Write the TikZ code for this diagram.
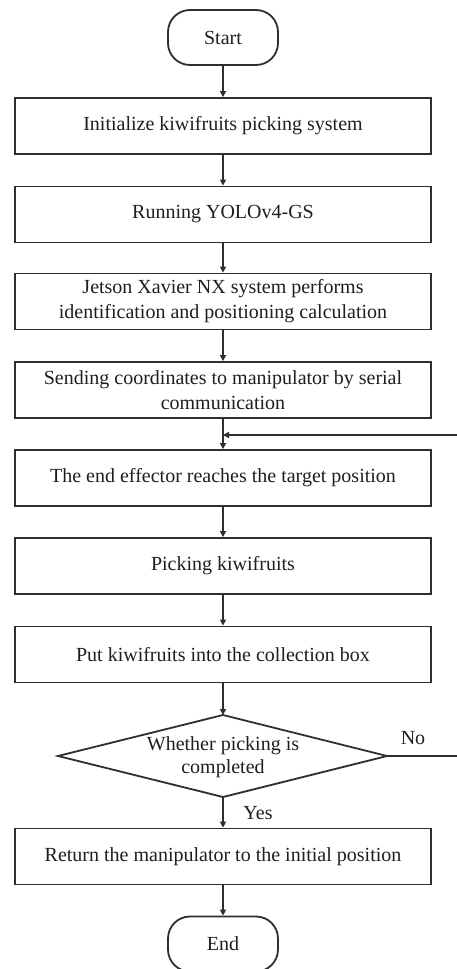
\documentclass[tikz,border=0pt]{standalone}
\usepackage{fontspec}
\setmainfont{Liberation Serif}
\usetikzlibrary{arrows.meta}
\definecolor{ln}{HTML}{2E2E2E}
\definecolor{tx}{HTML}{1E1E1E}
\tikzset{
  stepbox/.style={draw=ln, line width=1.8pt, minimum width=416pt, minimum height=56pt,
    inner sep=0pt, align=center, text=tx, font=\fontsize{20}{25}\selectfont},
  termbox/.style={draw=ln, line width=1.8pt, minimum width=110pt, minimum height=55pt,
    rounded corners=22pt, inner sep=0pt, align=center, text=tx, font=\fontsize{20}{25}\selectfont},
  dectext/.style={inner sep=0pt, align=center, text=tx, font=\fontsize{20}{23}\selectfont},
  lbl/.style={text=tx, font=\fontsize{20}{24}\selectfont, inner sep=0pt},
  flow/.style={draw=ln, line width=1.8pt, -{Triangle[length=6pt,width=6pt]}},
  plain/.style={draw=ln, line width=1.8pt, line join=miter}
}
\begin{document}
\begin{tikzpicture}[x=1pt,y=-1pt]
\useasboundingbox (0,0) rectangle (457,969);
\node[termbox] (start) at (223,37.5) {Start};
\node[stepbox] (b1) at (223,126) {Initialize kiwifruits picking system};
\node[stepbox] (b2) at (223,214.5) {Running YOLOv4-GS};
\node[stepbox] (b3) at (223,301.5) {Jetson Xavier NX system performs\\identification and positioning calculation};
\node[stepbox] (b4) at (223,390) {Sending coordinates to manipulator by serial\\communication};
\node[stepbox] (b5) at (223,478) {The end effector reaches the target position};
\node[stepbox] (b6) at (223,566) {Picking kiwifruits};
\node[stepbox] (b7) at (223,654.5) {Put kiwifruits into the collection box};
\coordinate (dT) at (223,715);
\coordinate (dL) at (58,756);
\coordinate (dR) at (387,756);
\coordinate (dB) at (223,797);
\draw[plain] (dT) -- (dR) -- (dB) -- (dL) -- cycle;
\node[dectext] (d) at (223,757) {Whether picking is\\completed};
\node[stepbox] (b8) at (223,856.5) {Return the manipulator to the initial position};
\node[termbox] (end) at (223,944) {End};
\node[lbl] (no) at (413,738) {No};
\node[lbl] (yes) at (258,813) {Yes};
\coordinate (join) at (223,435);
\coordinate (r1) at (460,756);
\coordinate (r2) at (460,435);
\draw[flow] (start) -- (b1);
\draw[flow] (b1) -- (b2);
\draw[flow] (b2) -- (b3);
\draw[flow] (b3) -- (b4);
\draw[flow] (b4) -- (b5);
\draw[flow] (b5) -- (b6);
\draw[flow] (b6) -- (b7);
\draw[flow] (b7) -- (dT);
\draw[flow] (dB) -- (b8);
\draw[flow] (b8) -- (end);
\draw[plain] (dR) -- (r1) -- (r2);
\draw[flow] (r2) -- (join);
\end{tikzpicture}
\end{document}
